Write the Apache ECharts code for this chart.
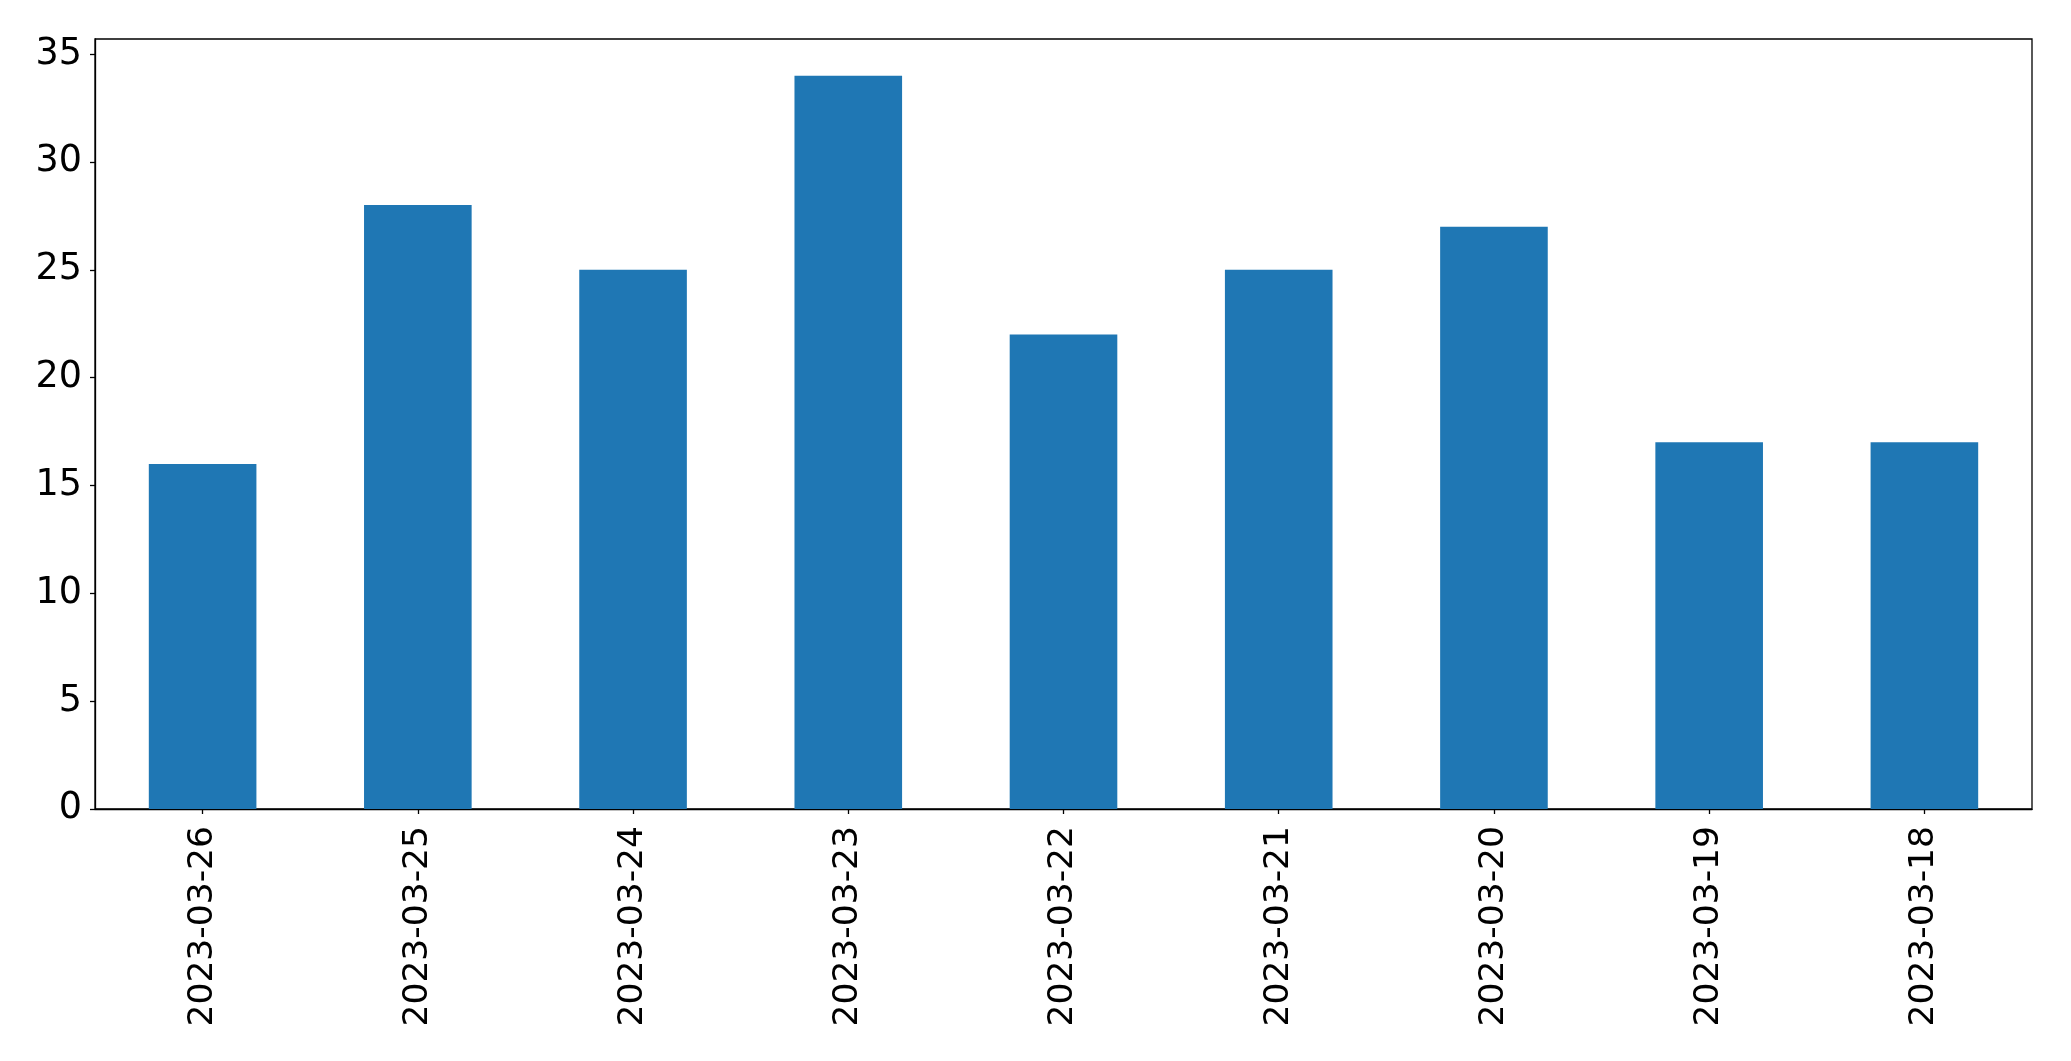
<!DOCTYPE html>
<html>
<head>
<meta charset="utf-8">
<script src="https://cdn.jsdelivr.net/npm/echarts@6/dist/echarts.min.js"></script>
<style>
html,body{margin:0;padding:0;background:#fff;}
#chart{width:2071px;height:1061px;}
</style>
</head>
<body>
<div id="chart"></div>
<script>
const categories = ["2023-03-26","2023-03-25","2023-03-24","2023-03-23","2023-03-22","2023-03-21","2023-03-20","2023-03-19","2023-03-18"];
const values = [16, 28, 25, 34, 22, 25, 27, 17, 17];
const yTicks = [0, 5, 10, 15, 20, 25, 30, 35];

const chart = echarts.init(document.getElementById('chart'));
const font = 'DejaVu Sans';
chart.setOption({
  animation: false,
  backgroundColor: '#ffffff',
  grid: {
    left: 95, top: 39, right: 39, bottom: 252,
    show: true, borderColor: '#000000', borderWidth: 1.3, backgroundColor: 'transparent'
  },
  xAxis: {
    type: 'category',
    data: categories,
    boundaryGap: true,
    axisLine: { show: true, lineStyle: { color: '#000', width: 1.3 } },
    axisTick: { show: true, alignWithLabel: true, length: 5, lineStyle: { color: '#000', width: 1.3 } },
    axisLabel: { rotate: 90, margin: 17, color: '#000', fontSize: 34.5, fontFamily: font, interval: 0 },
    splitLine: { show: false }
  },
  yAxis: {
    type: 'value',
    min: 0, max: 35.7, interval: 5,
    axisLine: { show: true, lineStyle: { color: '#000', width: 1.3 } },
    axisTick: { show: true, length: 5, customValues: yTicks, lineStyle: { color: '#000', width: 1.3 } },
    axisLabel: { margin: 13, color: '#000', fontSize: 36.5, fontFamily: font, customValues: yTicks },
    splitLine: { show: false }
  },
  series: [{
    type: 'bar',
    data: values,
    barWidth: '50%',
    itemStyle: { color: '#1f77b4' }
  }]
});
</script>
</body>
</html>
